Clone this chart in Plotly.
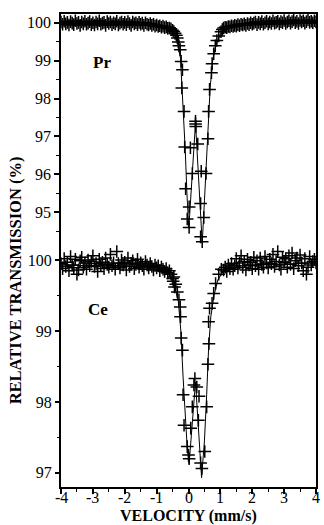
import plotly.graph_objects as go

# ---------------- data ----------------
# shared velocity grid for the baseline (wing) channels, mm/s
wing_left_v = [-4.00, -3.95, -3.90, -3.85, -3.80, -3.75, -3.70, -3.65, -3.60, -3.55,
               -3.50, -3.45, -3.40, -3.35, -3.30, -3.25, -3.20, -3.15, -3.10, -3.05,
               -3.00, -2.95, -2.90, -2.85, -2.80, -2.75, -2.70, -2.65, -2.60, -2.55,
               -2.50, -2.45, -2.40, -2.35, -2.30, -2.25, -2.20, -2.15, -2.10, -2.05,
               -2.00, -1.95, -1.90, -1.85, -1.80, -1.75, -1.70, -1.65, -1.60, -1.55,
               -1.50, -1.45, -1.40, -1.35, -1.30, -1.25, -1.20, -1.15, -1.10, -1.05,
               -1.00, -0.95, -0.90, -0.85, -0.80, -0.75, -0.70, -0.65, -0.60]
wing_right_v = [1.10, 1.15, 1.20, 1.25, 1.30, 1.35, 1.40, 1.45, 1.50, 1.55,
                1.60, 1.65, 1.70, 1.75, 1.80, 1.85, 1.90, 1.95, 2.00, 2.05,
                2.10, 2.15, 2.20, 2.25, 2.30, 2.35, 2.40, 2.45, 2.50, 2.55,
                2.60, 2.65, 2.70, 2.75, 2.80, 2.85, 2.90, 2.95, 3.00, 3.05,
                3.10, 3.15, 3.20, 3.25, 3.30, 3.35, 3.40, 3.45, 3.50, 3.55,
                3.60, 3.65, 3.70, 3.75, 3.80, 3.85, 3.90, 3.95, 4.00]

# Pr spectrum (relative transmission, %)
pr_left_t = [100.02, 99.96, 100.04, 99.97, 100.01, 99.94, 100.03, 99.99, 99.95, 100.05,
             99.98, 100.01, 99.93, 100.02, 99.97, 100.04, 99.96, 99.99, 100.03, 99.95,
             100.00, 99.94, 100.02, 99.97, 100.05, 99.96, 99.99, 100.01, 99.93, 100.03,
             99.98, 100.02, 99.95, 100.00, 99.97, 100.04, 99.94, 99.99, 100.02, 99.96,
             100.01, 99.95, 100.03, 99.98, 99.93, 100.02, 99.97, 100.00, 99.95, 100.01,
             99.96, 99.99, 99.93, 100.00, 99.96, 99.94, 99.98, 99.93, 99.96, 99.91,
             99.94, 99.90, 99.92, 99.88, 99.91, 99.87, 99.89, 99.85, 99.86]
pr_dip_v = [-0.55, -0.50, -0.46, -0.42, -0.38, -0.35, -0.32, -0.30, -0.26, -0.23,
            -0.19, -0.21, -0.14, -0.12, -0.09, -0.04, 0.02, 0.02, 0.06, 0.12,
            0.22, 0.22, 0.23, 0.29, 0.40, 0.55, 0.38, 0.48, 0.38, 0.43,
            0.61, 0.63, 0.66, 0.72, 0.74, 0.79, 0.84, 0.89, 0.95, 1.02, 1.06]
pr_dip_t = [99.84, 99.80, 99.77, 99.72, 99.67, 99.60, 99.49, 99.39, 99.29, 98.98,
            98.76, 98.28, 97.66, 96.72, 95.62, 94.82, 94.60, 95.14, 96.70, 96.02,
            97.40, 97.33, 97.26, 96.80, 96.08, 96.02, 95.23, 94.86, 94.35, 94.22,
            96.94, 97.66, 98.24, 98.68, 98.92, 99.18, 99.39, 99.53, 99.65, 99.76, 99.82]
pr_right_t = [99.86, 99.88, 99.87, 99.90, 99.89, 99.92, 99.90, 99.93, 99.91, 99.95,
              99.92, 99.96, 99.94, 99.97, 99.93, 99.98, 99.95, 100.00, 99.96, 99.99,
              100.02, 99.95, 100.01, 99.97, 100.03, 99.96, 100.00, 100.04, 99.97, 100.02,
              99.98, 100.05, 99.99, 100.01, 100.04, 99.97, 100.03, 100.00, 100.06, 99.98,
              100.02, 100.05, 99.99, 100.03, 100.07, 100.00, 100.04, 99.98, 100.06, 100.02,
              100.05, 99.99, 100.03, 100.07, 100.01, 100.04, 100.00, 100.05, 100.02]
pr_fit_v = [-4.0, -2.0, -1.2, -0.8, -0.6, -0.45, -0.35, -0.25, -0.17, -0.10, -0.05, 0.01,
            0.22, 0.43, 0.50, 0.56, 0.62, 0.68, 0.76, 0.86, 1.0, 1.2, 1.6, 4.0]
pr_fit_t = [99.99, 99.97, 99.95, 99.90, 99.85, 99.74, 99.55, 99.05, 97.90, 96.60, 95.50, 94.58,
            97.36, 94.18, 95.30, 96.40, 97.40, 98.30, 99.00, 99.42, 99.70, 99.85, 99.93, 99.99]

# Ce spectrum (relative transmission, %)
ce_left_t = [99.95, 99.88, 100.02, 99.91, 99.97, 99.85, 100.05, 99.93, 99.89, 100.01,
             99.80, 99.86, 99.99, 100.04, 99.90, 99.96, 99.87, 100.00, 99.92, 99.98,
             100.06, 99.91, 99.95, 99.84, 100.01, 99.93, 99.97, 99.88, 100.03, 99.94,
             99.90, 100.08, 99.92, 99.96, 99.87, 100.12, 99.95, 99.89, 100.00, 99.93,
             99.97, 99.86, 100.03, 99.91, 99.95, 99.99, 99.88, 99.94, 100.01, 99.90,
             99.96, 99.92, 99.87, 99.98, 99.93, 99.89, 99.95, 99.91, 99.86, 99.93,
             99.89, 99.92, 99.85, 99.90, 99.87, 99.84, 99.88, 99.82, 99.85]
ce_dip_v = [-0.55, -0.50, -0.48, -0.46, -0.44, -0.40, -0.35, -0.30, -0.26, -0.25,
            -0.23, -0.19, -0.17, -0.14, -0.04, 0.02, 0.00,
            0.20, 0.17, 0.26, 0.33, 0.12, 0.31, 0.07, 0.51, 0.38, 0.42,
            0.57, 0.61, 0.64, 0.63, 0.66, 0.74, 0.79, 0.85, 0.95, 1.03]
ce_dip_t = [99.80, 99.74, 99.70, 99.76, 99.62, 99.66, 99.55, 99.44, 99.34, 99.20,
            98.90, 98.73, 98.10, 97.67, 97.37, 97.20, 97.25,
            98.33, 98.24, 98.21, 98.08, 97.93, 97.74, 97.63, 97.30, 97.14, 97.06,
            97.93, 98.53, 98.82, 99.13, 99.32, 99.39, 99.53, 99.67, 99.80, 99.87]
ce_right_t = [99.86, 99.90, 99.84, 99.93, 99.88, 99.95, 99.87, 99.92, 100.02, 99.89,
              99.96, 100.06, 99.90, 99.98, 99.86, 100.01, 99.93, 99.97, 99.88, 100.04,
              99.92, 99.99, 99.87, 100.03, 99.94, 99.90, 100.05, 99.96, 99.89, 100.01,
              99.95, 100.08, 99.91, 99.98, 100.12, 99.93, 99.87, 100.04, 99.97, 100.02,
              99.90, 100.06, 99.94, 100.10, 99.88, 99.99, 100.03, 99.92, 100.07, 99.96,
              99.85, 100.02, 99.80, 99.90, 100.05, 99.93, 99.98, 100.01, 99.96]
ce_fit_v = [-4.0, -1.0, -0.6, -0.45, -0.32, -0.24, -0.17, -0.10, -0.04, 0.02,
            0.22, 0.41, 0.50, 0.57, 0.63, 0.70, 0.80, 0.92, 1.1, 1.6, 4.0]
ce_fit_t = [99.93, 99.90, 99.80, 99.65, 99.42, 99.00, 98.35, 97.80, 97.35, 97.13,
            98.28, 96.93, 97.45, 98.10, 98.75, 99.20, 99.50, 99.72, 99.85, 99.92, 99.96]

x_ticks = [-4, -3, -2, -1, 0, 1, 2, 3, 4]
x_ticktext = ["-4", "-3", "-2", "-1", "0", "1", "2", "3", "4"]
x_minor = [-3.5, -2.5, -1.5, -0.5, 0.5, 1.5, 2.5, 3.5]
pr_ticks = [95, 96, 97, 98, 99, 100]
pr_minor = [94.5, 95.5, 96.5, 97.5, 98.5, 99.5]
ce_ticks = [97, 98, 99, 100]
ce_minor = [97.5, 98.5, 99.5]

# ---------------- figure ----------------
SERIF = "Liberation Serif, Times New Roman, serif"
marker_style = dict(symbol="cross-thin", size=9, color="black",
                    line=dict(color="black", width=1.5))

fig = go.Figure()

fig.add_trace(go.Scatter(x=pr_fit_v, y=pr_fit_t, mode="lines",
                         line=dict(color="black", width=1), yaxis="y",
                         showlegend=False, hoverinfo="skip"))
fig.add_trace(go.Scatter(x=wing_left_v + pr_dip_v + wing_right_v,
                         y=pr_left_t + pr_dip_t + pr_right_t,
                         mode="markers", marker=marker_style, yaxis="y",
                         showlegend=False))
fig.add_trace(go.Scatter(x=ce_fit_v, y=ce_fit_t, mode="lines",
                         line=dict(color="black", width=1), yaxis="y2",
                         showlegend=False, hoverinfo="skip"))
fig.add_trace(go.Scatter(x=wing_left_v + ce_dip_v + wing_right_v,
                         y=ce_left_t + ce_dip_t + ce_right_t,
                         mode="markers", marker=marker_style, yaxis="y2",
                         showlegend=False))

tickfont = dict(family=SERIF, size=16, color="black")

fig.update_layout(
    width=324, height=525,
    margin=dict(l=61, r=6, t=14, b=38),
    plot_bgcolor="white", paper_bgcolor="white",
    showlegend=False,
    xaxis=dict(range=[-4, 4], tickmode="array", tickvals=x_ticks, showticklabels=False,
               ticks="outside", ticklen=5, tickwidth=1.5, tickcolor="black",
               showline=True, linecolor="black", linewidth=1.5, mirror=True,
               showgrid=False, zeroline=False,
               minor=dict(tickmode="array", tickvals=x_minor, ticks="outside",
                          ticklen=3, tickwidth=1.2, tickcolor="black", showgrid=False)),
    yaxis=dict(range=[87.75, 100.23], tickmode="array", tickvals=pr_ticks,
               ticks="outside", ticklen=5, tickwidth=1.5, tickcolor="black",
               showline=True, linecolor="black", linewidth=1.5, mirror=True,
               showgrid=False, zeroline=False, tickfont=tickfont,
               minor=dict(tickmode="array", tickvals=pr_minor, ticks="outside",
                          ticklen=3, tickwidth=1.2, tickcolor="black", showgrid=False)),
    yaxis2=dict(range=[96.80, 103.47], overlaying="y", side="left",
                tickmode="array", tickvals=ce_ticks,
                ticks="outside", ticklen=5, tickwidth=1.5, tickcolor="black",
                showline=False, showgrid=False, zeroline=False, tickfont=tickfont,
                minor=dict(tickmode="array", tickvals=ce_minor, ticks="outside",
                           ticklen=3, tickwidth=1.2, tickcolor="black", showgrid=False)),
)

# x tick labels placed close under the axis, as in the reference
for v, t in zip(x_ticks, x_ticktext):
    fig.add_annotation(text=t, xref="x", yref="paper", x=v, y=-0.0215,
                       showarrow=False, xanchor="center", yanchor="middle",
                       font=tickfont)

fig.add_annotation(text="<b>RELATIVE TRANSMISSION (%)</b>", xref="paper", yref="paper",
                   x=-0.179, y=0.4376, textangle=-90, showarrow=False,
                   xanchor="center", yanchor="middle",
                   font=dict(family=SERIF, size=16.5, color="black"))
fig.add_annotation(text="<b>VELOCITY (mm/s)</b>", xref="paper", yref="paper",
                   x=0.5, y=-0.0605, showarrow=False, xanchor="center", yanchor="middle",
                   font=dict(family=SERIF, size=16, color="black"))
fig.add_annotation(text="<b>Pr</b>", xref="x", yref="y", x=-2.72, y=98.95,
                   showarrow=False, xanchor="center", yanchor="middle",
                   font=dict(family=SERIF, size=17, color="black"))
fig.add_annotation(text="<b>Ce</b>", xref="x", yref="y2", x=-2.83, y=99.30,
                   showarrow=False, xanchor="center", yanchor="middle",
                   font=dict(family=SERIF, size=17, color="black"))

fig.write_html("out.html", config={"displayModeBar": False},
               post_script="document.body.style.margin='0px';")
